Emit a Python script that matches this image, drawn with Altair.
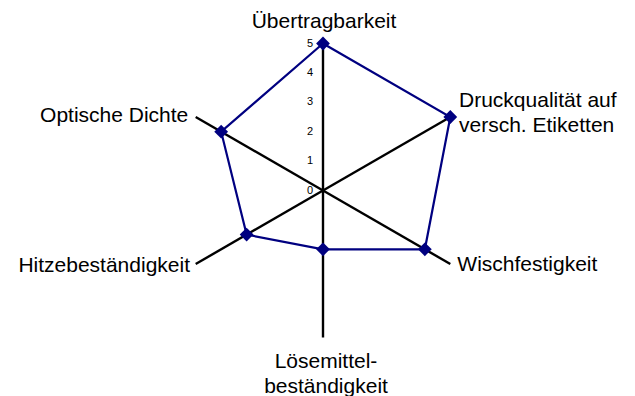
import altair as alt
import pandas as pd

# ---- data ----
categories = [
    "Übertragbarkeit",
    "Druckqualität auf\nversch. Etiketten",
    "Wischfestigkeit",
    "Lösemittel-\nbeständigkeit",
    "Hitzebeständigkeit",
    "Optische Dichte",
]
values = [5, 5, 4, 2, 3, 4]
ticks = [0, 1, 2, 3, 4, 5]
axis_max = 5

n = len(categories)
df = pd.DataFrame({"idx": list(range(n)), "cat": categories, "val": values})
df["vmax"] = axis_max
tick_df = pd.DataFrame({"t": ticks})

W, H = 619, 388
PX_PER_UNIT = 29.4
CX, CY = 323 - 8, 190.5 - 8
x_dom = [-CX / PX_PER_UNIT, (W - CX) / PX_PER_UNIT]
y_dom = [-(H - CY) / PX_PER_UNIT, CY / PX_PER_UNIT]

xs = alt.Scale(domain=x_dom, nice=False, zero=False)
ys = alt.Scale(domain=y_dom, nice=False, zero=False)

FONT = "Liberation Sans"
NAVY = "#000080"

base = alt.Chart(df).transform_calculate(
    ang="datum.idx * 2 * PI / %d" % n
).transform_calculate(
    px="datum.val * sin(datum.ang)",
    py="datum.val * cos(datum.ang)",
    ex="datum.vmax * sin(datum.ang)",
    ey="datum.vmax * cos(datum.ang)",
    zero="0",
)

spokes = base.mark_rule(color="black", strokeWidth=2.4).encode(
    x=alt.X("zero:Q", scale=xs, axis=None),
    y=alt.Y("zero:Q", scale=ys, axis=None),
    x2="ex:Q",
    y2="ey:Q",
)

line = base.mark_line(color=NAVY, strokeWidth=2.2, interpolate="linear-closed").encode(
    x=alt.X("px:Q", scale=xs, axis=None),
    y=alt.Y("py:Q", scale=ys, axis=None),
    order="idx:Q",
)

pts = base.mark_point(shape="diamond", filled=True, color=NAVY, size=190, opacity=1).encode(
    x=alt.X("px:Q", scale=xs, axis=None),
    y=alt.Y("py:Q", scale=ys, axis=None),
)

def label(i, align, dx, dy):
    return base.transform_filter("datum.idx == %d" % i).mark_text(
        font=FONT, fontSize=21, color="black", align=align, baseline="alphabetic",
        dx=dx, dy=dy, lineBreak="\n", lineHeight=25,
    ).encode(
        x=alt.X("ex:Q", scale=xs, axis=None),
        y=alt.Y("ey:Q", scale=ys, axis=None),
        text="cat:N",
    )

labels = [
    label(0, "center", 1, -15.5),
    label(1, "left", 8.7, -10.3),
    label(2, "left", 7, 7),
    label(3, "center", 3, 30.2),
    label(4, "right", -5.7, 7.7),
    label(5, "right", -7.4, 4.7),
]

tick_labels = alt.Chart(tick_df).transform_calculate(zero="0").mark_text(
    font=FONT, fontSize=11, color="black", align="right", baseline="middle", dx=-10
).encode(
    x=alt.X("zero:Q", scale=xs, axis=None),
    y=alt.Y("t:Q", scale=ys, axis=None),
    text="t:Q",
)

chart = alt.layer(spokes, line, pts, tick_labels, *labels).properties(
    width=W, height=H, padding=0,
    autosize=alt.AutoSizeParams(type="none"),
).configure_view(stroke=None)

chart.save("out.html", embed_options={"renderer": "svg", "actions": False})
